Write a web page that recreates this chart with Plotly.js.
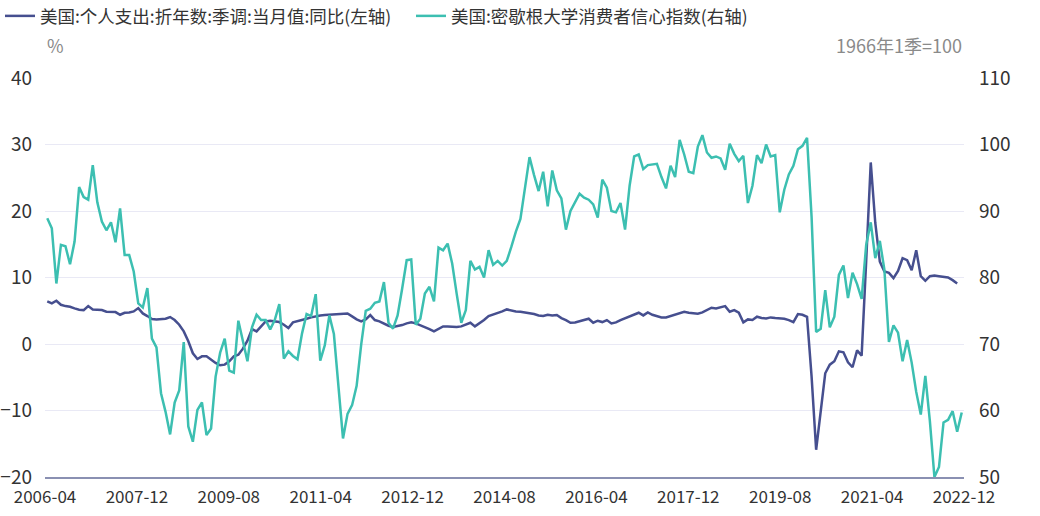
<!DOCTYPE html>
<html><head><meta charset="utf-8">
<script src="https://cdn.plot.ly/plotly-3.0.1.min.js"></script>
<style>html,body{margin:0;padding:0;background:#fff}#chart{width:1040px;height:516px}</style>
</head><body><div id="chart"></div>
<script>
// Monthly categories 2006-03 .. 2022-12
const months = [];
for (let y = 2006; y <= 2022; y++) {
  for (let m = (y === 2006 ? 3 : 1); m <= 12; m++) months.push(y + '-' + String(m).padStart(2, '0'));
}

// 美国:个人支出:折年数:季调:当月值:同比 (%), 2006-03 .. 2022-11
const pce = [
 6.4,6.1,6.5,5.9,5.7,5.6,5.35,5.15,5.1,5.7,
 5.2,5.15,5.1,4.85,4.8,4.8,4.4,4.7,4.75,4.9,
 5.4,4.6,4.2,3.75,3.7,3.7,3.8,4.05,3.6,2.9,
 1.9,0.4,-1.4,-2.25,-1.85,-1.85,-2.35,-2.85,-3.2,-3.1,
 -2.6,-1.85,-1.6,-0.7,0.5,2.25,1.9,2.65,3.4,3.5,
 3.45,3.3,2.9,2.4,3.25,3.4,3.65,3.8,4.0,4.2,
 4.3,4.35,4.4,4.4,4.4,4.45,4.6,4.15,3.7,3.4,
 3.7,4.35,3.6,3.4,3.05,2.75,2.55,2.65,2.85,3.1,
 3.25,3.1,2.85,2.5,2.25,1.9,2.25,2.65,2.65,2.6,
 2.55,2.65,2.95,3.2,2.65,3.1,3.6,4.2,4.4,4.6,
 4.9,5.2,5.0,4.9,4.85,4.75,4.65,4.5,4.3,4.2,
 4.4,4.3,4.35,3.9,3.6,3.2,3.25,3.4,3.6,3.8,
 3.2,3.5,3.3,3.6,3.1,3.25,3.6,3.85,4.1,4.4,
 4.7,4.3,4.75,4.4,4.2,4.0,4.0,4.2,4.35,4.6,
 4.85,4.7,4.6,4.55,4.75,5.05,5.45,5.35,5.5,5.7,
 4.85,5.1,4.7,3.25,3.7,3.6,4.1,3.9,3.85,4.0,
 3.9,3.85,3.8,3.6,3.3,4.5,4.4,4.1,-4.9,-15.9,
 -9.9,-4.4,-3.1,-2.6,-1.1,-1.25,-2.75,-3.5,-0.95,-1.75,
 12.5,27.3,18.2,12.4,10.9,10.7,9.9,11.0,12.9,12.6,
 11.1,14.1,10.2,9.5,10.2,10.3,10.2,10.1,10.0,9.6,
 9.1
];

// 美国:密歇根大学消费者信心指数 (1966年1季=100), 2006-03 .. 2022-12
const sentiment = [
 88.9,87.4,79.1,84.9,84.7,82.0,85.4,93.6,92.1,91.7,
 96.9,91.3,88.4,87.1,88.3,85.3,90.4,83.4,83.4,80.9,76.1,75.5,
 78.4,70.8,69.5,62.6,59.8,56.4,61.2,63.0,70.3,57.6,55.3,60.1,
 61.2,56.3,57.3,65.1,68.7,70.8,66.0,65.7,73.5,70.6,67.4,72.5,
 74.4,73.6,73.6,72.2,73.6,76.0,67.8,68.9,68.2,67.7,71.6,74.5,
 74.2,77.5,67.5,69.8,74.3,71.5,63.7,55.8,59.5,60.8,63.7,69.9,
 75.0,75.3,76.2,76.4,79.3,73.2,72.3,74.3,78.3,82.6,82.7,72.9,
 73.8,77.6,78.6,76.4,84.5,84.1,85.1,82.1,77.5,73.2,75.1,82.5,
 81.2,81.6,80.0,84.1,81.9,82.5,81.8,82.5,84.6,86.9,88.8,93.6,
 98.1,95.4,93.0,95.9,90.7,96.1,93.1,91.9,87.2,90.0,91.3,92.6,
 92.0,91.7,91.0,89.0,94.7,93.5,90.0,89.8,91.2,87.2,93.8,98.2,
 98.5,96.3,96.9,97.0,97.1,95.1,93.4,96.8,95.1,100.7,98.5,95.9,
 95.7,99.7,101.4,98.8,98.0,98.2,97.9,96.2,100.1,98.6,97.5,98.3,
 91.2,93.8,98.4,97.2,100.0,98.2,98.4,89.8,93.2,95.5,96.8,99.3,
 99.8,101.0,89.1,71.8,72.3,78.1,72.5,74.1,80.4,81.8,76.9,80.7,
 79.0,76.8,84.9,88.3,82.9,85.5,81.2,70.3,72.8,71.7,67.4,70.6,
 67.2,62.8,59.4,65.2,58.4,50.0,51.5,58.2,58.6,59.9,56.8,59.7
];

const tickLabels = ['2006-04','2007-12','2009-08','2011-04','2012-12','2014-08','2016-04','2017-12','2019-08','2021-04','2022-12'];

const seriesNames = ['美国:个人支出:折年数:季调:当月值:同比(左轴)', '美国:密歇根大学消费者信心指数(右轴)'];

const FONT = '"Noto Sans CJK SC", "Noto Sans", sans-serif';
const idx = arr => arr.map((_, i) => i);

const n = months.length;
const lo = -0.5, hi = n - 0.5;
const step = (hi - lo) / (tickLabels.length - 1);
const tickvals = tickLabels.map((_, k) => lo + k * step);

const traces = [
  {
    x: idx(pce), y: pce, text: months.slice(0, pce.length),
    name: seriesNames[0], type: 'scatter', mode: 'lines',
    line: {color: '#464f8f', width: 2.5}, yaxis: 'y',
    hovertemplate: '%{text}: %{y}<extra></extra>'
  },
  {
    x: idx(sentiment), y: sentiment, text: months,
    name: seriesNames[1], type: 'scatter', mode: 'lines',
    line: {color: '#3cbfb1', width: 2.5}, yaxis: 'y2',
    hovertemplate: '%{text}: %{y}<extra></extra>'
  }
];

const layout = {
  width: 1040, height: 516,
  margin: {l: 45, r: 76, t: 78, b: 39, pad: 0, autoexpand: false},
  paper_bgcolor: '#ffffff', plot_bgcolor: '#ffffff',
  font: {family: FONT, color: '#333333', size: 17},
  showlegend: true,
  legend: {
    orientation: 'h', x: -45 / 919, xanchor: 'left', y: 1 + 80 / 399, yanchor: 'top',
    font: {family: FONT, size: 17.5, color: '#333333'}, bgcolor: 'rgba(0,0,0,0)',
    itemwidth: 30, traceorder: 'normal', entrywidth: 366, entrywidthmode: 'pixels'
  },
  xaxis: {
    type: 'linear', range: [lo, hi],
    tickmode: 'array', tickvals: tickvals, ticktext: tickLabels,
    showgrid: false, zeroline: false, ticks: '',
    showline: true, linecolor: '#8a90b2', linewidth: 2,
    tickfont: {family: FONT, size: 17, color: '#333333'},
    ticklabelstandoff: 4, fixedrange: true
  },
  yaxis: {
    range: [-20, 40], dtick: 10, tick0: 0,
    showgrid: true, gridcolor: '#e9e9f5', gridwidth: 1,
    zeroline: false, showline: false, ticks: '',
    tickfont: {family: FONT, size: 19, color: '#333333'},
    ticklabelstandoff: 12, fixedrange: true
  },
  yaxis2: {
    range: [50, 110], dtick: 10, tick0: 50,
    overlaying: 'y', side: 'right',
    showgrid: false, zeroline: false, showline: false, ticks: '',
    tickfont: {family: FONT, size: 19, color: '#333333'},
    ticklabelstandoff: 14, fixedrange: true
  },
  annotations: [
    {text: '%', xref: 'paper', yref: 'paper', x: 0, y: 1, xanchor: 'left', yanchor: 'middle',
     yshift: 33, showarrow: false, font: {family: FONT, size: 18, color: '#8a8a8a'}},
    {text: '1966年1季=100', xref: 'paper', yref: 'paper', x: 1, y: 1, xanchor: 'right', yanchor: 'middle',
     yshift: 33, showarrow: false, font: {family: FONT, size: 18, color: '#8a8a8a'}}
  ]
};

Plotly.newPlot('chart', traces, layout, {displayModeBar: false, staticPlot: true});
</script>
</body></html>
